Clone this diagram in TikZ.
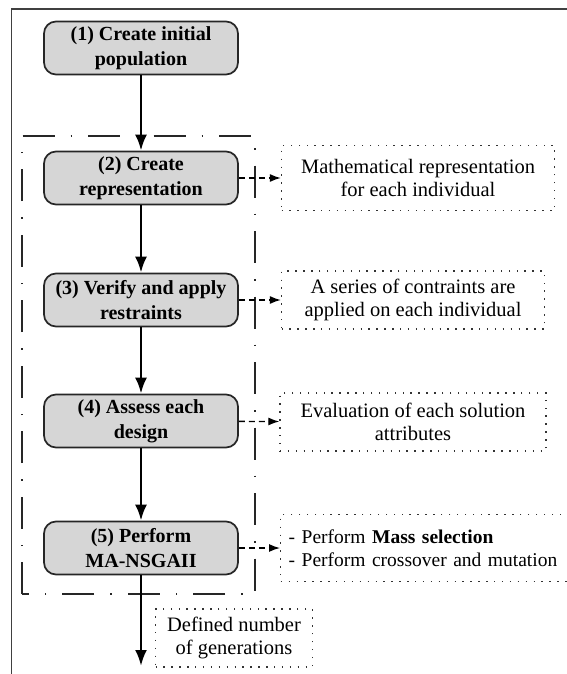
\documentclass[tikz,border=0pt]{standalone}
\usepackage{fontspec}
\setmainfont{Liberation Serif}
\usepackage{tikz}
\usetikzlibrary{calc,arrows.meta}

\tikzset{
    procbox/.style={rounded corners=12pt, fill=gray!32, draw=black!85, line width=1.7pt,
        minimum width=194pt, minimum height=53pt, align=center, inner sep=2pt,
        font=\fontsize{20}{25}\selectfont\bfseries},
    notebox/.style={draw=black!80, line width=1.4pt, dash pattern=on 1.4pt off 6.5pt,
        minimum height=58pt, align=center, inner sep=3pt,
        font=\fontsize{20.5}{22.5}\selectfont},
    flow/.style={line width=2.7pt, -{Latex[length=16pt,width=12pt]}},
    link/.style={line width=1.3pt, dash pattern=on 6pt off 4pt, -{Latex[length=11pt,width=8pt]}},
}

\begin{document}
\begin{tikzpicture}[x=1pt, y=-1pt]
    \clip (0,0) rectangle (567,674);
    \fill[white] (0,0) rectangle (567,674);

    % outer frame
    \draw[black!75, line width=1.8pt] (11.5,674) -- (11.5,9) -- (567,9);

    % loop frame
    \draw[black!85, line width=1.8pt, dash pattern=on 32pt off 16pt on 1.5pt off 16pt]
        (22,594) -- (22,136) -- (255,136) -- (255,594) -- cycle;

    \node[procbox] (create) at (141,48) {(1) Create initial\\population};

    \node[procbox] (repr) at ($(create) + (0,130)$) {(2) Create\\representation};

    \node[procbox] (verify) at ($(repr) + (0,122)$) {(3) Verify and apply\\restraints};

    \node[procbox] (assess) at ($(verify) + (0,121)$) {(4) Assess each\\design};

    \node[procbox] (perform) at ($(assess) + (0,127)$) {(5) Perform\\MA-NSGAII};

    \node[notebox, minimum width=273pt, minimum height=65pt] (mathrep) at (418,178) {Mathematical representation\\for each individual};

    \node[notebox, minimum width=263pt] (constr) at (413,300) {A series of contraints are\\applied on each individual};

    \node[notebox, minimum width=266pt] (eval) at (413,422) {Evaluation of each solution\\attributes};

    \node[notebox, minimum height=67pt, text width=296pt, align=left, anchor=west, inner xsep=8pt,
        font=\fontsize{19.5}{22.5}\selectfont] (mass) at (280,548)
        {- Perform \textbf{Mass selection}\\- Perform crossover and mutation};

    \node[notebox, minimum width=157pt] (gens) at (234,638) {Defined number\\of generations};

    \coordinate (stop) at (141,666);

    \draw[flow] (create) -- (repr);
    \draw[flow] (repr) -- (verify);
    \draw[flow] (verify) -- (assess);
    \draw[flow] (assess) -- (perform);
    \draw[flow] (perform) -- (stop);

    \draw[link] (repr) -- (mathrep);
    \draw[link] (verify) -- (constr);
    \draw[link] (assess) -- (eval);
    \draw[link] (perform) -- (mass);

\end{tikzpicture}
\end{document}
